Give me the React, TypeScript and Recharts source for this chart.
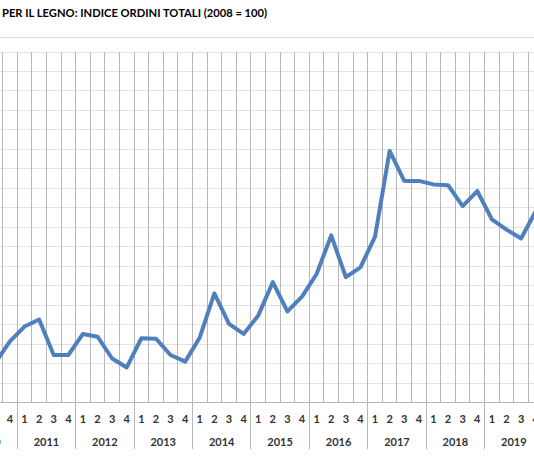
import React from "react";
import {
    LineChart,
    Line,
    XAxis,
    YAxis,
    CartesianGrid,
} from "recharts";

// visible part of the chart: 2010 Q3 .. 2019 Q4
const years = [
    2010, 2010,
    2011, 2011, 2011, 2011,
    2012, 2012, 2012, 2012,
    2013, 2013, 2013, 2013,
    2014, 2014, 2014, 2014,
    2015, 2015, 2015, 2015,
    2016, 2016, 2016, 2016,
    2017, 2017, 2017, 2017,
    2018, 2018, 2018, 2018,
    2019, 2019, 2019, 2019,
];

const quarters = [
    3, 4,
    1, 2, 3, 4,
    1, 2, 3, 4,
    1, 2, 3, 4,
    1, 2, 3, 4,
    1, 2, 3, 4,
    1, 2, 3, 4,
    1, 2, 3, 4,
    1, 2, 3, 4,
    1, 2, 3, 4,
];

const orderIndex = [
    50.2, 55.7,
    59.5, 61.3, 52.2, 52.2,
    57.6, 56.9, 51.3, 49.0,
    56.5, 56.4, 52.2, 50.5,
    56.7, 68.0, 60.2, 57.6,
    62.3, 70.9, 63.4, 67.2,
    73.0, 82.9, 72.2, 74.7,
    82.6, 104.6, 96.9, 96.9,
    96.0, 95.8, 90.4, 94.3,
    87.0, 84.4, 82.1, 89.1,
];

const yTicks = [40, 45, 50, 55, 60, 65, 70, 75, 80, 85, 90, 95, 100, 105, 110, 115, 120, 125, 130];

const title = "PER IL LEGNO: INDICE ORDINI TOTALI (2008 = 100)";

const data = orderIndex.map((v, i) => ({ i, year: years[i], q: quarters[i], value: v }));
const n = data.length;

const boundaries = Array.from({ length: n + 1 }, (_, k) => k - 0.5);
const centers = data.map((d) => d.i);

// first index of each year (may be negative if the year starts before the data)
const yearStart: Record<number, number> = {};
data.forEach((d) => {
    const start = d.i - (d.q - 1);
    if (yearStart[d.year] === undefined) yearStart[d.year] = start;
});
const separatorTicks = Object.values(yearStart)
    .map((s) => s - 0.5)
    .filter((t) => t >= -0.5);
const labelTicks = Object.values(yearStart)
    .map((s) => s + 1.5)
    .filter((t) => t >= -0.5 && t <= n - 0.5);
const yearByCenter: Record<string, number> = {};
Object.entries(yearStart).forEach(([y, s]) => {
    yearByCenter[String(s + 1.5)] = Number(y);
});
const yearAxisTicks = [...separatorTicks, ...labelTicks].sort((a, b) => a - b);

const FONT = "Lato, 'Open Sans', sans-serif";
const TEXT = "#333333";
const GRID_V = "#b8b8b8";

const NoTick = () => <g />;

const QuarterTick = (props: any) => {
    const { x, y, payload } = props;
    const d = data[Math.round(payload.value)];
    if (!d) return <g />;
    return (
        <text x={x} y={y + 18.5} textAnchor="middle" fontSize={11} fontWeight={700} fill={TEXT} fontFamily={FONT}>
            {d.q}
        </text>
    );
};

const YearTick = (props: any) => {
    const { x, y, payload } = props;
    const year = yearByCenter[String(payload.value)];
    if (year !== undefined) {
        return (
            <text x={x} y={y + 15} textAnchor="middle" fontSize={11} fontWeight={700} fill={TEXT} fontFamily={FONT}>
                {year}
            </text>
        );
    }
    return <line x1={x} x2={x} y1={y - 28} y2={y + 18} stroke={GRID_V} strokeWidth={1} shapeRendering="crispEdges" />;
};

export default function App() {
    return (
        <div
            style={{
                position: "fixed",
                left: 0,
                top: 0,
                width: 534,
                height: 462,
                overflow: "hidden",
                background: "#fff",
                fontFamily: FONT,
            }}
        >
            <div
                style={{
                    position: "absolute",
                    left: 2,
                    top: 6,
                    fontSize: 11.2,
                    fontWeight: 700,
                    color: "#000",
                    whiteSpace: "nowrap",
                    lineHeight: "14px",
                }}
            >
                {title}
            </div>
            <div style={{ position: "absolute", left: 0, right: 0, top: 37, height: 1, background: "#d9d9d9" }} />
            <div style={{ position: "absolute", left: -12, top: 0 }}>
                <LineChart width={555} height={462} data={data} margin={{ top: 52, right: 0, bottom: 0, left: 0 }}>
                    <CartesianGrid vertical={false} stroke="#e2e2e2" strokeWidth={1} shapeRendering="crispEdges" />
                    <CartesianGrid horizontal={false} stroke={GRID_V} strokeWidth={1} shapeRendering="crispEdges" />
                    <YAxis
                        type="number"
                        domain={[40, 130]}
                        ticks={yTicks}
                        width={0}
                        tick={<NoTick />}
                        axisLine={false}
                        tickLine={false}
                        interval={0}
                    />
                    <XAxis
                        type="number"
                        dataKey="i"
                        domain={[-0.5, n - 0.5]}
                        ticks={boundaries}
                        interval={0}
                        height={2}
                        tickSize={0}
                        tick={<NoTick />}
                        tickLine={false}
                        axisLine={{ stroke: GRID_V, strokeWidth: 1, shapeRendering: "crispEdges" }}
                    />
                    <XAxis
                        xAxisId="quarter"
                        type="number"
                        dataKey="i"
                        domain={[-0.5, n - 0.5]}
                        ticks={centers}
                        interval={0}
                        height={26}
                        tickSize={0}
                        tickMargin={0}
                        tickLine={false}
                        axisLine={false}
                        tick={<QuarterTick />}
                    />
                    <XAxis
                        xAxisId="year"
                        type="number"
                        dataKey="i"
                        domain={[-0.5, n - 0.5]}
                        ticks={yearAxisTicks}
                        interval={0}
                        height={31.5}
                        tickSize={0}
                        tickMargin={0}
                        tickLine={false}
                        axisLine={false}
                        tick={<YearTick />}
                    />
                    <Line
                        type="linear"
                        dataKey="value"
                        stroke="#4f7fbd"
                        strokeWidth={4}
                        strokeLinejoin="round"
                        dot={false}
                        activeDot={false}
                        isAnimationActive={false}
                    />
                </LineChart>
            </div>
        </div>
    );
}
